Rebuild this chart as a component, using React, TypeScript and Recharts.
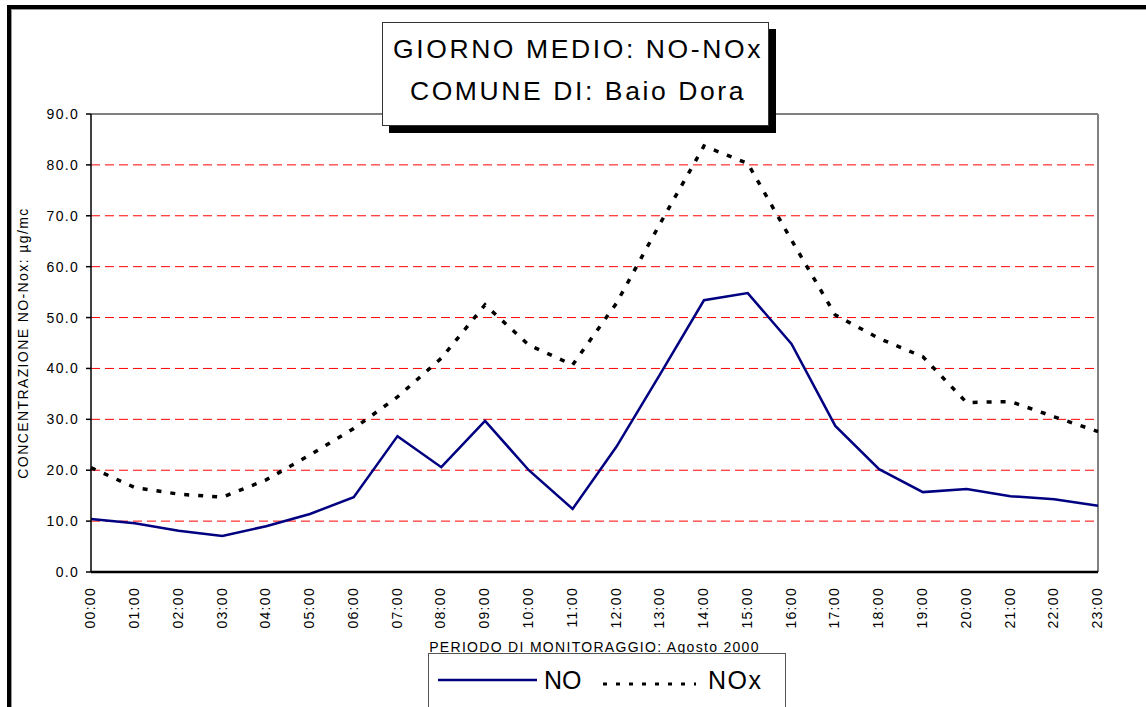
import React from 'react';
import { LineChart, Line, XAxis, YAxis, CartesianGrid, ReferenceLine, Legend } from 'recharts';

const hours = ['00:00','01:00','02:00','03:00','04:00','05:00','06:00','07:00','08:00','09:00','10:00','11:00','12:00','13:00','14:00','15:00','16:00','17:00','18:00','19:00','20:00','21:00','22:00','23:00'];
const noValues = [10.4, 9.6, 8.1, 7.1, 9.0, 11.4, 14.7, 26.7, 20.6, 29.7, 20.0, 12.4, 24.6, 38.9, 53.4, 54.8, 44.8, 28.7, 20.2, 15.7, 16.3, 14.9, 14.3, 13.0];
const noxValues = [20.5, 16.6, 15.3, 14.7, 18.1, 23.0, 28.2, 34.4, 42.0, 52.5, 44.6, 40.7, 52.8, 68.5, 83.7, 80.3, 65.2, 50.5, 45.9, 42.3, 33.3, 33.5, 30.5, 27.6];
const yTicks = [0, 10, 20, 30, 40, 50, 60, 70, 80, 90];
const gridValues = [10, 20, 30, 40, 50, 60, 70, 80];
const titleLines = ['GIORNO MEDIO: NO-NOx', 'COMUNE DI: Baio Dora'];
const xTitle = 'PERIODO DI MONITORAGGIO: Agosto 2000';
const yTitle = 'CONCENTRAZIONE NO-Nox: µg/mc';

const data = hours.map((h, i) => ({ hour: h, NO: noValues[i], NOx: noxValues[i] }));

const FONT = '"Liberation Sans", Arial, sans-serif';

const XTick = (props: any) => {
  const { x, y, payload } = props;
  return (
    <text x={x} y={y} transform={`rotate(-90, ${x}, ${y})`} textAnchor="end" dy="0.3em"
      fontFamily={FONT} fontSize={14} fill="#000" style={{ letterSpacing: '1.3px' }}>
      {payload.value}
    </text>
  );
};

const XLabel = (props: any) => {
  const vb = props.viewBox || { x: 91, width: 1007 };
  return (
    <text x={vb.x + vb.width / 2} y={652} textAnchor="middle" fontFamily={FONT} fontSize={14} fill="#000"
      style={{ letterSpacing: '1.3px' }}>{xTitle}</text>
  );
};

const YLabel = (props: any) => {
  const vb = props.viewBox || { y: 114, height: 458 };
  const cy = vb.y + vb.height / 2;
  return (
    <text x={28} y={cy} transform={`rotate(-90, 28, ${cy})`} textAnchor="middle" fontFamily={FONT} fontSize={14}
      fill="#000" style={{ letterSpacing: '1.4px' }}>{yTitle}</text>
  );
};

const LegendBox = (props: any) => {
  const payload = props.payload || [];
  const noItem = payload.find((p: any) => p.value === 'NO') || { value: 'NO', color: '#000080' };
  const noxItem = payload.find((p: any) => p.value === 'NOx') || { value: 'NOx', color: '#000' };
  return (
    <div style={{ width: 358, height: 90, border: '1px solid #555', background: '#fff', boxSizing: 'border-box' }}>
      <svg width={358} height={88} style={{ display: 'block', marginLeft: -1, marginTop: -1 }}>
        <line x1={10} x2={109} y1={27} y2={27} stroke={noItem.color} strokeWidth={2.5} />
        <text x={116} y={36} fontFamily={FONT} fontSize={25} fill="#000">{noItem.value}</text>
        <line x1={175} x2={268} y1={31} y2={31} stroke={noxItem.color} strokeWidth={3} strokeDasharray="4 9" />
        <text x={280} y={36} fontFamily={FONT} fontSize={25} fill="#000" style={{ letterSpacing: '1.5px' }}>{noxItem.value}</text>
      </svg>
    </div>
  );
};

export default function App() {
  return (
    <div style={{ position: 'absolute', left: 0, top: 0, width: 1146, height: 707, overflow: 'hidden', background: '#fff' }}>
      <div style={{ position: 'absolute', left: 7, top: 5, width: 1400, height: 1000, border: '4px solid #000', boxShadow: 'inset 1px 1px 0 #999' }} />
      <div style={{ position: 'absolute', left: 0, top: 0 }}>
        <LineChart width={1146} height={707} data={data} margin={{ top: 114, right: 48, bottom: 105, left: 31 }}>
          <CartesianGrid vertical={false} horizontalValues={gridValues} stroke="#ff0000" strokeDasharray="9 5" strokeWidth={1} />
          <XAxis dataKey="hour" interval={0} tickLine={false} tick={<XTick />} tickSize={6} tickMargin={9}
            axisLine={{ stroke: '#000', strokeWidth: 2.5 }} height={30} label={<XLabel />} />
          <YAxis domain={[0, 90]} ticks={yTicks} interval={0} width={60} tickSize={5} tickMargin={7}
            tickFormatter={(v: number) => v.toFixed(1)}
            tick={{ fontFamily: FONT, fontSize: 14, fill: '#000', style: { letterSpacing: '1.3px' } }}
            tickLine={{ stroke: '#000', strokeWidth: 1.5 }}
            axisLine={{ stroke: '#000', strokeWidth: 1.5 }} label={<YLabel />} />
          <ReferenceLine y={90} stroke="#000" strokeWidth={1.2} ifOverflow="visible" />
          <ReferenceLine x="23:00" stroke="#808080" strokeWidth={2} ifOverflow="visible" />
          <Line type="linear" dataKey="NO" name="NO" stroke="#000080" strokeWidth={2.5} dot={false} activeDot={false} isAnimationActive={false} />
          <Line type="linear" dataKey="NOx" name="NOx" stroke="#000" strokeWidth={3.5} strokeDasharray="5 9" dot={false} activeDot={false} isAnimationActive={false} />
          <Legend layout="vertical" verticalAlign="middle" align="center" content={<LegendBox />}
            wrapperStyle={{ position: 'absolute', left: 428, top: 653, width: 358 }} />
        </LineChart>
      </div>
      <div style={{ position: 'absolute', left: 382, top: 22, width: 387, height: 104, boxSizing: 'border-box',
        border: '1px solid #333', background: '#fff', boxShadow: '7px 7px 0 #000' }}>
        <svg width={387} height={104} style={{ display: 'block', marginLeft: -1, marginTop: -1 }}>
          {titleLines.map((t, i) => (
            <text key={t} x={196} y={36 + i * 42} textAnchor="middle" fontFamily={FONT} fontSize={26.5} fill="#000"
              style={{ letterSpacing: '2.6px' }}>{t}</text>
          ))}
        </svg>
      </div>
    </div>
  );
}
